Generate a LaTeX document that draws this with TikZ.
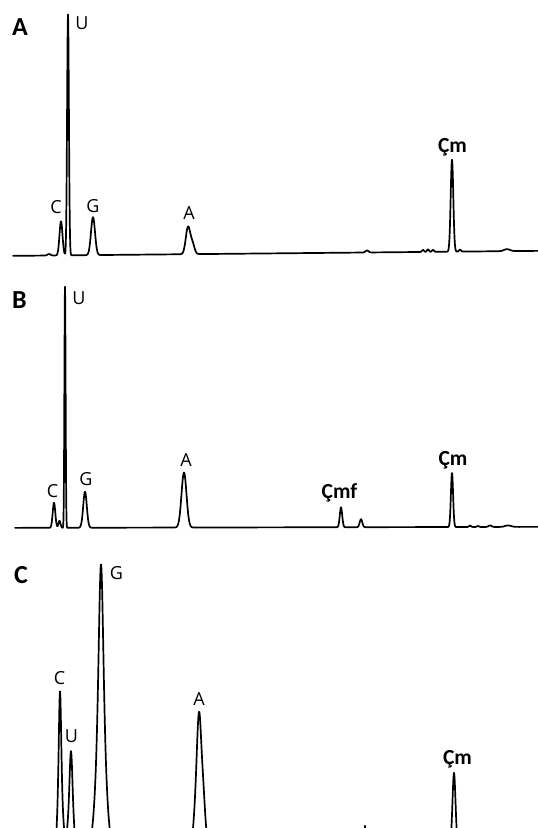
\documentclass[tikz,border=0pt]{standalone}
\usepackage{fontspec}
\newfontfamily\labfont{Open Sans}
\newfontfamily\boldfont{Carlito}
\tikzset{
  trace/.style={line width=1.7pt, line join=round, line cap=round},
  plab/.style={font=\labfont\fontsize{18}{20}\selectfont, inner sep=0pt, anchor=base},
  blab/.style={font=\boldfont\bfseries\fontsize{21.5}{24}\selectfont, inner sep=0pt, anchor=base},
  panlab/.style={font=\boldfont\bfseries\fontsize{26}{28}\selectfont, inner sep=0pt, anchor=base west},
  declare function={
    gs(\x,\c,\s)=exp(-0.5*(min(abs(\x-\c)/\s,4))^2);
    lz(\x,\c,\w)=1/(1+(min(abs(\x-\c)/\w,100))^2);
    fA(\x)=256-0.00952*(\x-13)-(1.5*gs(\x,49,1.5)+34*gs(\x,61,1.5)+241*gs(\x,68,0.9)+38*gs(\x,93,2)+27*gs(\x,188,2.2)+10*gs(\x,192.5,2)+2*gs(\x,367,1.5)+2*gs(\x,423,1)+2.5*gs(\x,428,1)+2*gs(\x,433,1)+92*gs(\x,452,1.3)+2*gs(\x,460,1)+2*gs(\x,507,3));
    fB(\x)=528-0.0019*(\x-15)-(25*gs(\x,54,1.3)+7*gs(\x,59.5,1)+241*gs(\x,65,0.6)+36*gs(\x,85,1.8)+55*gs(\x,184,2.5)+20*gs(\x,341,1.2)+8*gs(\x,361,1.3)+54*gs(\x,452,1.1)+1.5*gs(\x,470,1)+1*gs(\x,478,1)+1.5*gs(\x,490,1.5)+1.5*gs(\x,508,3));
    fC(\x)=880-(180*lz(\x,60,2)+118*lz(\x,71,2.5)+314*lz(\x,101,3.8)+160*lz(\x,199,4)+25*lz(\x,203.5,3)+107*lz(\x,454,2.5)+54*lz(\x,365,0.6));
  }
}
\begin{document}
\begin{tikzpicture}[x=1pt,y=-1pt]
\useasboundingbox (0,0) rectangle (538,828);
\clip (0,0) rectangle (538,828);

% Panel A trace
\draw[trace] plot[domain=13:55,samples=43] (\x,{fA(\x)})
  -- plot[domain=55:75,samples=101] (\x,{fA(\x)})
  -- plot[domain=75:85,samples=11] (\x,{fA(\x)})
  -- plot[domain=85:101,samples=33] (\x,{fA(\x)})
  -- plot[domain=101:180,samples=80] (\x,{fA(\x)})
  -- plot[domain=180:200,samples=41] (\x,{fA(\x)})
  -- plot[domain=200:360,samples=161] (\x,{fA(\x)})
  -- plot[domain=360:375,samples=31] (\x,{fA(\x)})
  -- plot[domain=375:418,samples=44] (\x,{fA(\x)})
  -- plot[domain=418:440,samples=45] (\x,{fA(\x)})
  -- plot[domain=440:446,samples=7] (\x,{fA(\x)})
  -- plot[domain=446:458,samples=61] (\x,{fA(\x)})
  -- plot[domain=458:538,samples=81] (\x,{fA(\x)});

% Panel B trace
\draw[trace] plot[domain=15:48,samples=34] (\x,{fB(\x)})
  -- plot[domain=48:61,samples=53] (\x,{fB(\x)})
  -- plot[domain=61:69,samples=81] (\x,{fB(\x)})
  -- plot[domain=69:78,samples=19] (\x,{fB(\x)})
  -- plot[domain=78:92,samples=29] (\x,{fB(\x)})
  -- plot[domain=92:176,samples=85] (\x,{fB(\x)})
  -- plot[domain=176:192,samples=33] (\x,{fB(\x)})
  -- plot[domain=192:334,samples=143] (\x,{fB(\x)})
  -- plot[domain=334:368,samples=69] (\x,{fB(\x)})
  -- plot[domain=368:446,samples=79] (\x,{fB(\x)})
  -- plot[domain=446:458,samples=61] (\x,{fB(\x)})
  -- plot[domain=458:538,samples=81] (\x,{fB(\x)});

% Panel C trace (cut at the bottom)
\draw[trace] plot[domain=40:120,samples=401] (\x,{fC(\x)});
\draw[trace] plot[domain=185:215,samples=121] (\x,{fC(\x)});
\draw[trace] plot[domain=360:370,samples=81] (\x,{fC(\x)});
\draw[trace] plot[domain=440:470,samples=121] (\x,{fC(\x)});

% Panel A labels
\node[panlab] (pA) at (12,35) {A};
\node[plab] (aU) at (82,29) {U};
\node[plab] (aC) at (56,213) {C};
\node[plab] (aG) at (93,212.5) {G};
\node[plab] (aA) at (189,219) {A};
\node[blab] (aCm) at (452.5,152) {Çm};

% Panel B labels
\node[panlab] (pB) at (12,308) {B};
\node[plab] (bU) at (79,304) {U};
\node[plab] (bC) at (52.5,497) {C};
\node[plab] (bG) at (86,485) {G};
\node[plab] (bA) at (186,466) {A};
\node[blab] (bCmf) at (339.5,498) {Çmf};
\node[blab] (bCm) at (453,465) {Çm};

% Panel C labels
\node[panlab] (pC) at (14,583) {C};
\node[plab] (cC) at (59.5,684) {C};
\node[plab] (cU) at (71.5,742) {U};
\node[plab] (cG) at (116.5,579) {G};
\node[plab] (cA) at (199,705) {A};
\node[blab] (cCm) at (457.5,764) {Çm};
\end{tikzpicture}
\end{document}
